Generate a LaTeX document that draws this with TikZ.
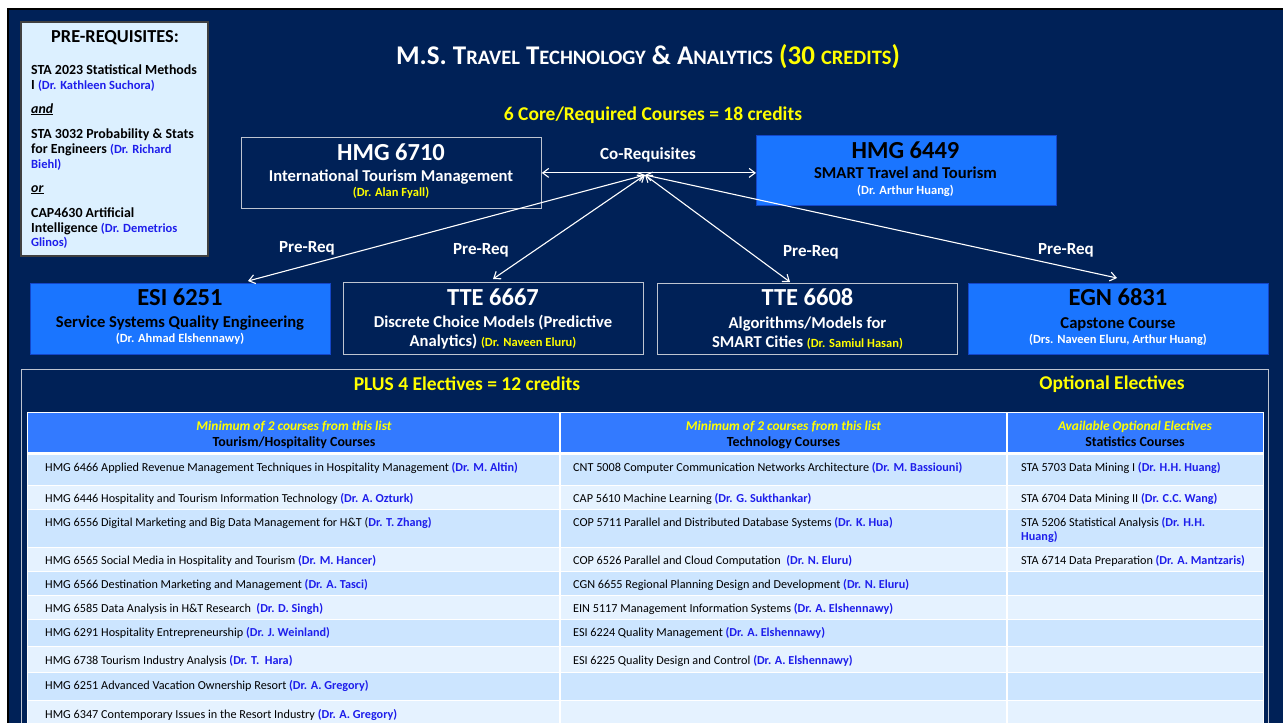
\documentclass[tikz,border=0pt]{standalone}
\usepackage{fontspec}
\setmainfont{Carlito}
\usetikzlibrary{arrows.meta}
\definecolor{navy}{RGB}{0,33,87}
\definecolor{boxblue}{RGB}{26,117,255}
\definecolor{boxblueedge}{RGB}{20,70,200}
\definecolor{hdrblue}{RGB}{51,122,255}
\definecolor{rowdark}{RGB}{204,229,255}
\definecolor{rowlight}{RGB}{229,242,255}
\definecolor{drblue}{RGB}{30,30,235}
\definecolor{prefill}{RGB}{220,240,255}
\definecolor{ylw}{RGB}{255,255,0}
\definecolor{boxgray}{RGB}{190,196,208}
\newcommand\fs[1]{\fontsize{#1}{#1}\selectfont}
\newcommand\scx[1]{{\fs{20.5}#1}}
\newcommand\drn[1]{\textbf{\textcolor{drblue}{#1}}}
\newcommand\tabrow[3]{%
  \fill[#3] (28,#1) rectangle (559,#2);
  \fill[#3] (561,#1) rectangle (1006,#2);
  \fill[#3] (1008,#1) rectangle (1263,#2);}
\begin{document}
\begin{tikzpicture}[x=1pt,y=-1pt,
  darkbox/.style={draw=boxgray, fill=navy, line width=0.8pt, minimum width=300pt, minimum height=71pt, inner sep=0pt, anchor=north west},
  bluebox/.style={draw=boxblueedge, fill=boxblue, line width=0.8pt, minimum width=300pt, minimum height=71pt, inner sep=0pt, anchor=north west},
  txt/.style={inner sep=0pt, anchor=base},
  ltxt/.style={inner sep=0pt, anchor=base west},
  code/.style={txt, font=\fs{24.5}\bfseries},
  ctitle/.style={txt, font=\fs{16.6}\bfseries},
  cinstr/.style={txt, font=\fs{12.5}\bfseries},
  lbl/.style={txt, font=\fs{17}\bfseries, text=white},
  yhead/.style={txt, font=\fs{19.5}\bfseries, text=ylw},
  pre/.style={ltxt, font=\fs{13.9}\bfseries},
  preb/.style={font=\fs{12.5}\bfseries, text=drblue},
  hd1/.style={txt, font=\fs{13.4}\bfseries\itshape, text=ylw},
  hd2/.style={txt, font=\fs{13.9}\bfseries, text=black},
  cell/.style={ltxt, font=\fs{12.2}, text=black},
  conn/.style={white, line width=1.1pt, {Straight Barb[length=6pt,width=9pt]}-{Straight Barb[length=6pt,width=9pt]}}
]
\useasboundingbox (0,0) rectangle (1283,723);
\fill[white] (0,0) rectangle (1283,723);
\draw[fill=navy, draw=black, line width=2pt] (8,9) rectangle (1300,740);

% prerequisites box
\draw[fill=prefill, draw=black!75, line width=1.2pt] (21,22) rectangle (208,256);
\node[txt, font=\fs{18.3}\bfseries] (p0) at (115,42) {PRE-REQUISITES:};
\node[pre] (p1) at (31,74) {STA 2023 Statistical Methods};
\node[pre] (p2) at (31,89.5) {I {\fs{12.5}\textcolor{drblue}{(Dr. Kathleen Suchora)}}};
\node[pre] (p3) at (31,113) {\underline{\textit{and}}};
\node[pre] (p4) at (31,138) {STA 3032 Probability \& Stats};
\node[pre] (p5) at (31,153.5) {for Engineers {\fs{12.5}\textcolor{drblue}{(Dr. Richard}}};
\node[pre] (p6) at (31,168.5) {\fs{12.5}\textcolor{drblue}{Biehl)}};
\node[pre] (p7) at (31,192) {\underline{\textit{or}}};
\node[pre] (p8) at (31,217) {CAP4630 Artificial};
\node[pre] (p9) at (31,232.5) {Intelligence {\fs{12.5}\textcolor{drblue}{(Dr. Demetrios}}};
\node[pre] (p10) at (31,246.5) {\fs{12.5}\textcolor{drblue}{Glinos)}};

% title
\node[txt, font=\fs{27}\bfseries, text=white] (title) at (648,64.5)
  {M.S. T\scx{RAVEL} T\scx{ECHNOLOGY} \& A\scx{NALYTICS} \textcolor{ylw}{(30 \scx{CREDITS})}};
\node[yhead] (core) at (653,120) {6 Core/Required Courses = 18 credits};

% core boxes
\node[darkbox] (hmg6710) at (241,137) {};
\node[code, text=white] (hmg6710c) at (391,160.5) {HMG 6710};
\node[ctitle, text=white] (hmg6710t) at (391,181) {International Tourism Management};
\node[cinstr, text=ylw] (hmg6710i) at (391,196) {(Dr. Alan Fyall)};

\node[bluebox, minimum height=70pt] (hmg6449) at (756,135) {};
\node[code, text=black] (hmg6449c) at (905.5,158.5) {HMG 6449};
\node[ctitle, text=black] (hmg6449t) at (905.5,178) {SMART Travel and Tourism};
\node[cinstr, text=white] (hmg6449i) at (905.5,194) {(Dr. Arthur Huang)};

\node[lbl] (coreq) at (648,159) {Co-Requisites};

\node[bluebox] (esi) at (30,283) {};
\node[code, text=black] (esic) at (180,305.5) {ESI 6251};
\node[ctitle, text=black] (esit) at (180,327) {Service Systems Quality Engineering};
\node[cinstr, text=white] (esii) at (180,342) {(Dr. Ahmad Elshennawy)};

\node[darkbox, minimum height=72pt] (tte6667) at (343,282) {};
\node[code, text=white] (tte6667c) at (493,305.5) {TTE 6667};
\node[ctitle, text=white] (tte6667t) at (493,327) {Discrete Choice Models (Predictive};
\node[ctitle, text=white] (tte6667u) at (493,346) {Analytics) {\fs{12.5}\textcolor{ylw}{(Dr. Naveen Eluru)}}};

\node[darkbox] (tte6608) at (657,283) {};
\node[code, text=white] (tte6608c) at (807.5,305.5) {TTE 6608};
\node[ctitle, text=white] (tte6608t) at (807.5,328) {Algorithms/Models for};
\node[ctitle, text=white] (tte6608u) at (807.5,347) {SMART Cities {\fs{12.5}\textcolor{ylw}{(Dr. Samiul Hasan)}}};

\node[bluebox] (egn) at (968,283) {};
\node[code, text=black] (egnc) at (1118,305.5) {EGN 6831};
\node[ctitle, text=black] (egnt) at (1118,328) {Capstone Course};
\node[cinstr, text=white] (egni) at (1118,343) {(Drs. Naveen Eluru, Arthur Huang)};

% connectors
\coordinate (hub) at (645,175);
\coordinate (endesi) at (248,281);
\coordinate (endtte7) at (493,279);
\coordinate (endtte8) at (790,282);
\coordinate (endegn) at (1117,278);
\draw[conn] (hmg6710.east) -- (hmg6710.east -| hmg6449.west);
\draw[conn] (hub) -- (endesi);
\draw[conn] (hub) -- (endtte7);
\draw[conn] (hub) -- (endtte8);
\draw[conn] (hub) -- (endegn);

\node[lbl] (pr1) at (307,252.5) {Pre-Req};
\node[lbl] (pr2) at (481,254.5) {Pre-Req};
\node[lbl] (pr3) at (811,256.5) {Pre-Req};
\node[lbl] (pr4) at (1066,254.5) {Pre-Req};

% electives
\draw[fill=navy, draw=boxgray, line width=0.8pt] (21,369) rectangle (1268,740);
\node[yhead] (plus) at (467,390) {PLUS 4 Electives = 12 credits};
\node[yhead] (opt) at (1112,389.5) {Optional Electives};

\fill[white] (27,412) rectangle (1264,740);
\fill[hdrblue] (28,413) rectangle (559,452);
\fill[hdrblue] (561,413) rectangle (1006,452);
\fill[hdrblue] (1008,413) rectangle (1263,452);
\node[hd1] (h1a) at (294,430.5) {Minimum of 2 courses from this list};
\node[hd2] (h1b) at (294,446.5) {Tourism/Hospitality Courses};
\node[hd1] (h2a) at (783.5,430.5) {Minimum of 2 courses from this list};
\node[hd2] (h2b) at (783.5,446.5) {Technology Courses};
\node[hd1] (h3a) at (1135,430.5) {Available Optional Electives};
\node[hd2] (h3b) at (1135,446.5) {Statistics Courses};

\tabrow{455}{484.5}{rowdark}
\tabrow{486}{508.5}{rowlight}
\tabrow{510}{546.5}{rowdark}
\tabrow{548}{570.5}{rowlight}
\tabrow{572}{594.5}{rowdark}
\tabrow{596}{618.5}{rowlight}
\tabrow{620}{645.5}{rowdark}
\tabrow{647}{671.5}{rowlight}
\tabrow{673}{699.5}{rowdark}
\tabrow{701}{740}{rowlight}

\node[cell] (a1) at (45,471) {HMG 6466 Applied Revenue Management Techniques in Hospitality Management \drn{(Dr. M. Altin)}};
\node[cell] (a2) at (45,502) {HMG 6446 Hospitality and Tourism Information Technology \drn{(Dr. A. Ozturk)}};
\node[cell] (a3) at (45,526) {HMG 6556 Digital Marketing and Big Data Management for H\&T (\drn{Dr. T. Zhang)}};
\node[cell] (a4) at (45,564) {HMG 6565 Social Media in Hospitality and Tourism \drn{(Dr. M. Hancer)}};
\node[cell] (a5) at (45,588) {HMG 6566 Destination Marketing and Management \drn{(Dr. A. Tasci)}};
\node[cell] (a6) at (45,612) {HMG 6585 Data Analysis in H\&T Research \ \drn{(Dr. D. Singh)}};
\node[cell] (a7) at (45,636) {HMG 6291 Hospitality Entrepreneurship \drn{(Dr. J. Weinland)}};
\node[cell] (a8) at (45,664) {HMG 6738 Tourism Industry Analysis \drn{(Dr. T. \ Hara)}};
\node[cell] (a9) at (45,689) {HMG 6251 Advanced Vacation Ownership Resort \drn{(Dr. A. Gregory)}};
\node[cell] (a10) at (45,718) {HMG 6347 Contemporary Issues in the Resort Industry \drn{(Dr. A. Gregory)}};

\node[cell] (b1) at (573,471) {CNT 5008 Computer Communication Networks Architecture \drn{(Dr. M. Bassiouni)}};
\node[cell] (b2) at (573,502) {CAP 5610 Machine Learning \drn{(Dr. G. Sukthankar)}};
\node[cell] (b3) at (573,526) {COP 5711 Parallel and Distributed Database Systems \drn{(Dr. K. Hua)}};
\node[cell] (b4) at (573,564) {COP 6526 Parallel and Cloud Computation \ \drn{(Dr. N. Eluru)}};
\node[cell] (b5) at (573,588) {CGN 6655 Regional Planning Design and Development \drn{(Dr. N. Eluru)}};
\node[cell] (b6) at (573,612) {EIN 5117 Management Information Systems \drn{(Dr. A. Elshennawy)}};
\node[cell] (b7) at (573,636) {ESI 6224 Quality Management \drn{(Dr. A. Elshennawy)}};
\node[cell] (b8) at (573,664) {ESI 6225 Quality Design and Control \drn{(Dr. A. Elshennawy)}};

\node[cell] (c1) at (1021,471) {STA 5703 Data Mining I \drn{(Dr. H.H. Huang)}};
\node[cell] (c2) at (1021,502) {STA 6704 Data Mining II \drn{(Dr. C.C. Wang)}};
\node[cell] (c3) at (1021,526) {STA 5206 Statistical Analysis \drn{(Dr. H.H.}};
\node[cell] (c3b) at (1021,540.5) {\drn{Huang)}};
\node[cell] (c4) at (1021,564) {STA 6714 Data Preparation \drn{(Dr. A. Mantzaris)}};
\end{tikzpicture}
\end{document}
